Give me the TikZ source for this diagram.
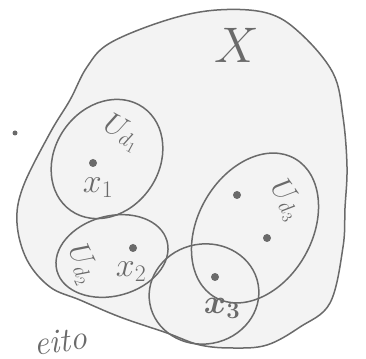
\RequirePackage{fix-cm}
\documentclass[tikz,border=0pt]{standalone}
\usepackage{amsmath}
\usepackage{tikz}
\usetikzlibrary{positioning}
\definecolor{pencil}{HTML}{6A6A6A}
\definecolor{paper}{HTML}{F3F3F3}
% an open set drawn as a tilted ellipse: centre, x radius, y radius, angle, name
\newcommand{\nbhd}[5]{%
  \draw[hand,rotate around={#4:#1}] #1 ellipse (#2 and #3);
  \coordinate (#5) at #1;}

\begin{document}
\begin{tikzpicture}[x=1pt,y=1pt,line join=round,
    hand/.style={pencil,line width=1.5pt},
    pt/.style={circle,fill=pencil,inner sep=0pt,minimum size=8pt},
    lbl/.style={pencil,inner sep=0pt,font=\fontsize{30}{30}\selectfont}]
    \clip (0,0) rectangle (366,358);
    % the whole space
    \filldraw[hand,fill=paper] plot[smooth cycle,tension=0.6] coordinates {
      (17,135) (23,171) (50,225) (70,258) (87,291) (110,315) (167,338)
      (217,348) (267,345) (300,325) (333,285) (343,241) (347,191)
      (345,150) (343,111) (330,55) (300,31) (267,13) (233,10) (200,13)
      (167,25) (120,41) (80,58) (50,71) (27,98)};
    \node[pencil,font=\fontsize{50}{50}\selectfont] (X) at (237,313) {$X$};
    \node[pt,minimum size=5pt] (stray) at (15,225) {};

    % the three neighbourhoods and the small ball round x_3
    \nbhd{(107,199)}{63}{52}{55}{U1}
    \nbhd{(112,102)}{57}{40}{15}{U2}
    \nbhd{(255,130)}{80}{57}{60}{U3}
    \nbhd{(204,64)}{55}{50}{10}{B3}

    \node[lbl,rotate=-28] (Ud1) at (122,225) {$U_{d_1}$};
    \node[lbl,rotate=-65] (Ud2) at (82,94) {$U_{d_2}$};
    \node[lbl,rotate=-55] (Ud3) at (286,158) {$U_{d_3}$};

    % points
    \node[pt] (d1) at (93,195) {};
    \node[pt] (d2) at (133,110) {};
    \node[pt] (d3a) at (237,163) {};
    \node[pt] (d3b) at (267,120) {};
    \node[pt] (d3c) at (215,81) {};
    \node[lbl,font=\fontsize{34}{34}\selectfont] (x1) at (98,170) {$x_1$};
    \node[lbl,font=\fontsize{34}{34}\selectfont] (x2) at (131,86) {$x_2$};
    \node[lbl,font=\fontsize{34}{34}\selectfont\boldmath] (x3) at (222,50) {$x_3$};

    \node[pencil,font=\fontsize{34}{34}\selectfont\itshape,rotate=8,
      anchor=base] (note) at (62,6) {eito};
  \end{tikzpicture}
\end{document}
